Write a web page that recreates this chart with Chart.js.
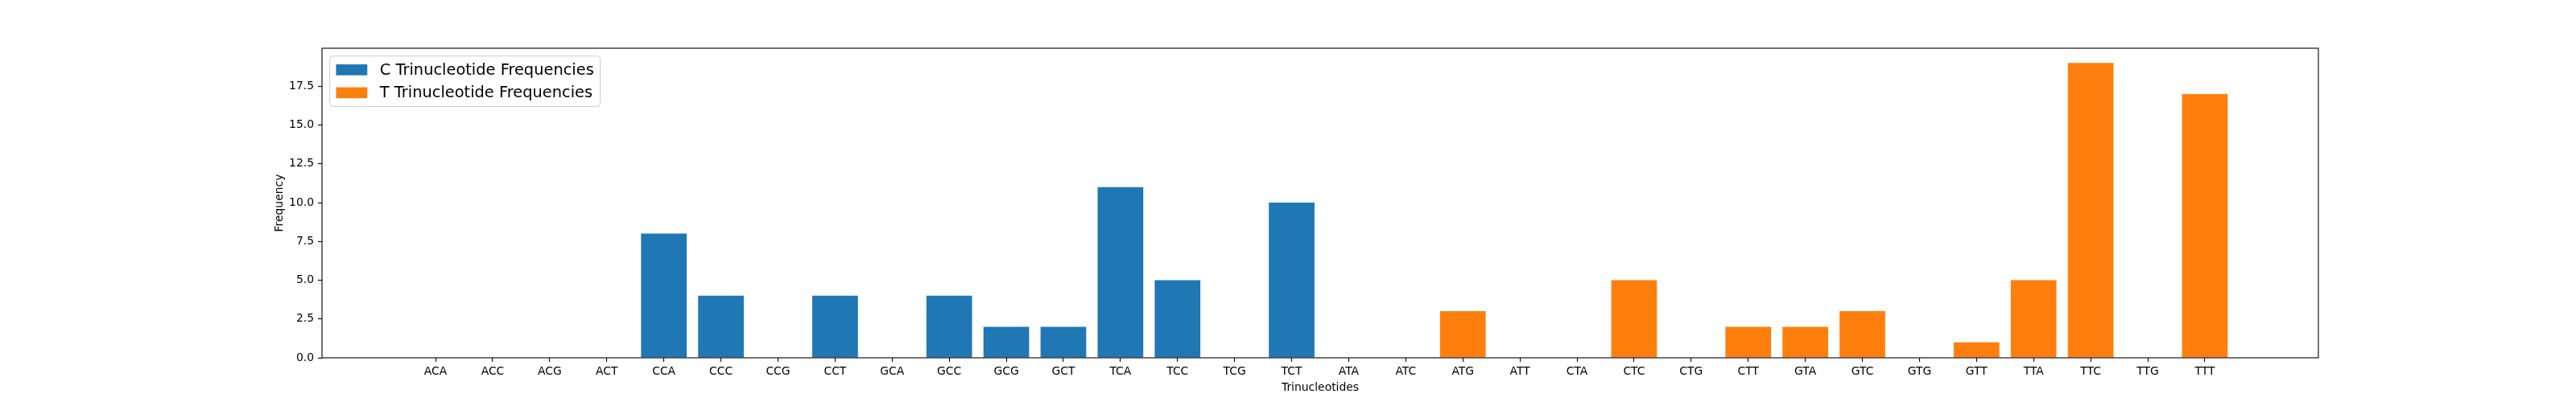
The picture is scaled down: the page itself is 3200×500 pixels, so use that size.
<!DOCTYPE html>
<html>
<head>
<meta charset="utf-8">
<script src="https://cdn.jsdelivr.net/npm/chart.js@4.4.1/dist/chart.umd.min.js"></script>
<style>
  html, body { margin: 0; padding: 0; background: #fff; }
  #wrap { width: 3200px; height: 500px; }
</style>
</head>
<body>
<div id="wrap"><canvas id="chart" width="3200" height="500"></canvas></div>
<script>
// trinucleotide counts
const cLabels = ['ACA','ACC','ACG','ACT','CCA','CCC','CCG','CCT','GCA','GCC','GCG','GCT','TCA','TCC','TCG','TCT'];
const cValues = [0, 0, 0, 0, 8, 4, 0, 4, 0, 4, 2, 2, 11, 5, 0, 10];
const tLabels = ['ATA','ATC','ATG','ATT','CTA','CTC','CTG','CTT','GTA','GTC','GTG','GTT','TTA','TTC','TTG','TTT'];
const tValues = [0, 0, 3, 0, 0, 5, 0, 2, 2, 3, 0, 1, 5, 19, 0, 17];
const yTicks = [0, 2.5, 5, 7.5, 10, 12.5, 15, 17.5];

const seriesNames = ['C Trinucleotide Frequencies', 'T Trinucleotide Frequencies'];
const seriesColors = ['#1f77b4', '#ff7f0e'];

const categories = cLabels.concat(tLabels);
const FONT = 'DejaVu Sans';

// matplotlib-like margins around the bars
const xMin = -0.4 - 0.05 * (categories.length - 0.2);
const xMax = categories.length - 0.6 + 0.05 * (categories.length - 0.2);
const yMax = Math.max(...cValues, ...tValues) * 1.05;

const cData = cValues.map((v, i) => ({ x: i, y: v }));
const tData = tValues.map((v, i) => ({ x: cLabels.length + i, y: v }));

// frame, axis titles and legend, drawn like matplotlib
const decorations = {
  id: 'decorations',
  afterDraw(chart) {
    const { ctx, chartArea: a } = chart;
    ctx.save();

    ctx.strokeStyle = '#000';
    ctx.lineWidth = 1.1;
    ctx.strokeRect(a.left, a.top, a.right - a.left, a.bottom - a.top);

    ctx.fillStyle = '#000';
    ctx.font = '13.9px "' + FONT + '"';
    ctx.textAlign = 'center';
    ctx.textBaseline = 'middle';
    ctx.fillText('Trinucleotides', (a.left + a.right) / 2, 482);

    ctx.save();
    ctx.translate(347, (a.top + a.bottom) / 2);
    ctx.rotate(-Math.PI / 2);
    ctx.fillText('Frequency', 0, 0);
    ctx.restore();

    // legend
    const fs = 19.4;
    ctx.font = fs + 'px "' + FONT + '"';
    const textW = Math.max(...seriesNames.map(s => ctx.measureText(s).width));
    const pad = 0.4 * fs;
    const handleW = 2 * fs, handleH = 0.7 * fs;
    const rowH = fs * 0.97, gap = 0.5 * fs;
    const bx = a.left + 0.5 * fs, by = a.top + 0.5 * fs;
    const bw = pad * 2 + handleW + 0.8 * fs + textW;
    const bh = pad * 2 + rowH * seriesNames.length + gap * (seriesNames.length - 1);

    ctx.beginPath();
    ctx.roundRect(bx, by, bw, bh, 4);
    ctx.fillStyle = 'rgba(255,255,255,0.8)';
    ctx.fill();
    ctx.strokeStyle = '#cccccc';
    ctx.lineWidth = 1;
    ctx.stroke();

    ctx.textAlign = 'left';
    seriesNames.forEach((name, i) => {
      const cy = by + pad + rowH / 2 + i * (rowH + gap);
      ctx.fillStyle = seriesColors[i];
      ctx.fillRect(bx + pad, cy - handleH / 2, handleW, handleH);
      ctx.fillStyle = '#000';
      ctx.fillText(name, bx + pad + handleW + 0.8 * fs, cy + 1);
    });

    ctx.restore();
  }
};

new Chart(document.getElementById('chart'), {
  type: 'bar',
  data: {
    datasets: [
      { label: seriesNames[0], data: cData, backgroundColor: seriesColors[0], borderWidth: 0 },
      { label: seriesNames[1], data: tData, backgroundColor: seriesColors[1], borderWidth: 0 }
    ]
  },
  options: {
    responsive: false,
    animation: false,
    devicePixelRatio: 1,
    layout: { padding: { top: 60, right: 320, bottom: 0, left: 0 } },
    datasets: { bar: { grouped: false, categoryPercentage: 0.8, barPercentage: 1.0 } },
    plugins: { legend: { display: false }, tooltip: { enabled: false } },
    scales: {
      x: {
        type: 'linear',
        min: xMin,
        max: xMax,
        offset: false,
        afterBuildTicks: (scale) => { scale.ticks = categories.map((c, i) => ({ value: i })); },
        afterFit: (scale) => { scale.height = 55; },
        grid: { offset: false, drawOnChartArea: false, tickLength: 5, tickWidth: 1.1, tickColor: '#000' },
        border: { display: false },
        ticks: {
          autoSkip: false,
          maxRotation: 0,
          padding: 4,
          color: '#000',
          font: { family: FONT, size: 13.9 },
          callback: (v) => categories[v]
        }
      },
      y: {
        min: 0,
        max: yMax,
        afterBuildTicks: (scale) => { scale.ticks = yTicks.map(v => ({ value: v })); },
        afterFit: (scale) => { scale.width = 400; },
        grid: { drawOnChartArea: false, tickLength: 5, tickWidth: 1.1, tickColor: '#000' },
        border: { display: false },
        ticks: {
          padding: 5,
          color: '#000',
          font: { family: FONT, size: 13.9 },
          callback: (v) => Number(v).toFixed(1)
        }
      }
    }
  },
  plugins: [decorations]
});
</script>
</body>
</html>
